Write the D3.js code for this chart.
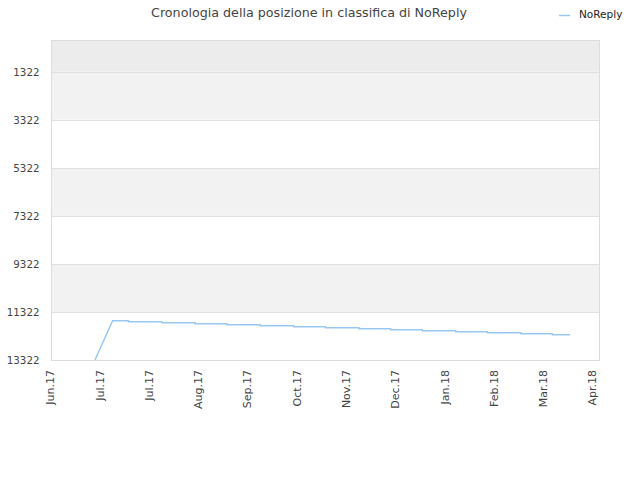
<!DOCTYPE html>
<html>
<head>
<meta charset="utf-8">
<script src="https://cdn.jsdelivr.net/npm/d3@7"></script>
<style>
  body { margin: 0; background: #fff; }
  text { font-family: "DejaVu Sans", sans-serif; }
</style>
</head>
<body>
<svg id="chart"></svg>
<script>
// chart data
var seriesName = 'NoReply',
	chartTitle = 'Cronologia della posizione in classifica di NoReply';

// dates of each rank change (ISO, UTC)
var rankDates = ['2017-06-29', '2017-07-09', '2017-07-18', '2017-08-06', '2017-08-25',
	'2017-09-12', '2017-10-01', '2017-10-20', '2017-11-07', '2017-11-26', '2017-12-14',
	'2018-01-01', '2018-01-20', '2018-02-07', '2018-02-26', '2018-03-16', '2018-03-26'];
var rankValues = [13322, 11684, 11726, 11768, 11809, 11851,
	11893, 11934, 11976, 12018, 12059,
	12101, 12143, 12184, 12226, 12268, 12268];

// ticks every four weeks
var tickDates = ['2017-06-04', '2017-07-02', '2017-07-30', '2017-08-27', '2017-09-24',
	'2017-10-22', '2017-11-19', '2017-12-17', '2018-01-14', '2018-02-11',
	'2018-03-11', '2018-04-08'];
var tickLabels = ['Jun.17', 'Jul.17', 'Jul.17', 'Aug.17', 'Sep.17', 'Oct.17',
	'Nov.17', 'Dec.17', 'Jan.18', 'Feb.18', 'Mar.18', 'Apr.18'];
var yTicks = [1322, 3322, 5322, 7322, 9322, 11322, 13322];
var yBands = [0, 1322, 3322, 5322, 7322, 9322, 11322, 13322];
var bandFills = ['#ececec', '#f2f2f2', '#ffffff', '#f2f2f2', '#ffffff', '#f2f2f2', '#ffffff'];

// layout
var width = 640,
	height = 480,
	plotLeft = 51,
	plotRight = 600,
	plotTop = 40,
	plotBottom = 360;

var parse = d3.utcParse('%Y-%m-%d');

var svg = d3.select('#chart')
	.attr('width', width)
	.attr('height', height);

var x = d3.scaleUtc()
	.domain([parse('2017-06-04'), parse('2018-04-12')])
	.range([plotLeft, plotRight]);

var y = d3.scaleLinear()
	.domain([0, 13322])
	.range([plotTop, plotBottom]);

// background bands
svg.selectAll('.band')
	.data(bandFills)
	.enter().append('rect')
		.attr('class', 'band')
		.attr('x', plotLeft)
		.attr('width', plotRight - plotLeft)
		.attr('y', function(d, i) { return y(yBands[i]); })
		.attr('height', function(d, i) { return y(yBands[i + 1]) - y(yBands[i]); })
		.attr('fill', function(d) { return d; });

// horizontal grid lines
svg.selectAll('.grid')
	.data(yTicks)
	.enter().append('line')
		.attr('class', 'grid')
		.attr('x1', plotLeft)
		.attr('x2', plotRight)
		.attr('y1', function(d) { return Math.round(y(d)) + 0.5; })
		.attr('y2', function(d) { return Math.round(y(d)) + 0.5; })
		.attr('stroke', '#e0e0e0')
		.attr('stroke-width', 1);

// plot frame
svg.append('rect')
	.attr('x', plotLeft + 0.5)
	.attr('y', plotTop + 0.5)
	.attr('width', plotRight - plotLeft - 1)
	.attr('height', plotBottom - plotTop)
	.attr('fill', 'none')
	.attr('stroke', '#dcdcdc');

// y axis
var yAxis = svg.append('g')
	.attr('transform', 'translate(' + (plotLeft - 11.5) + ',0)')
	.call(d3.axisLeft(y).tickValues(yTicks).tickSize(0).tickPadding(0)
		.tickFormat(d3.format('d')));
yAxis.select('.domain').remove();
yAxis.selectAll('text')
	.attr('fill', '#444')
	.attr('font-size', '10.3px')
	.attr('font-family', '"DejaVu Sans", sans-serif');

// x axis
var tickDateObjs = tickDates.map(parse);
var xAxis = svg.append('g')
	.attr('transform', 'translate(0,' + plotBottom + ')')
	.call(d3.axisBottom(x)
		.tickValues(tickDateObjs)
		.tickSize(0)
		.tickFormat(function(d, i) { return tickLabels[i]; }));
xAxis.select('.domain').remove();
xAxis.selectAll('text')
	.attr('fill', '#444')
	.attr('font-size', '11px')
	.attr('font-family', '"DejaVu Sans", sans-serif')
	.attr('text-anchor', 'end')
	.attr('dy', '0.35em')
	.attr('transform', 'translate(-1,10) rotate(-90)')
	.attr('y', 0)
	.attr('x', 0);

// rank line
var points = rankDates.map(function(d, i) {
	return { date: parse(d), rank: rankValues[i] };
});
var lineX = function(d) { return x(d.date); },
	lineY = function(d) { return y(d.rank); };

svg.append('path')
	.datum(points)
	.attr('fill', 'none')
	.attr('stroke', '#99c8f4')
	.attr('stroke-width', 1.5)
	.attr('d', d3.line().x(lineX).y(lineY)(points.slice(0, 2)) +
		d3.line().x(lineX).y(lineY).curve(d3.curveStepAfter)(points.slice(1)).replace(/^M/, 'L'));

// title
svg.append('text')
	.attr('x', 309)
	.attr('y', 17)
	.attr('text-anchor', 'middle')
	.attr('font-size', '12.7px')
	.attr('fill', '#444')
	.text(chartTitle);

// legend
svg.append('line')
	.attr('x1', 559)
	.attr('x2', 570)
	.attr('y1', 15.5)
	.attr('y2', 15.5)
	.attr('stroke', '#99c8f4')
	.attr('stroke-width', 1.5);
svg.append('text')
	.attr('x', 579)
	.attr('y', 18)
	.attr('font-size', '10.5px')
	.attr('fill', '#222')
	.text(seriesName);
</script>
</body>
</html>
